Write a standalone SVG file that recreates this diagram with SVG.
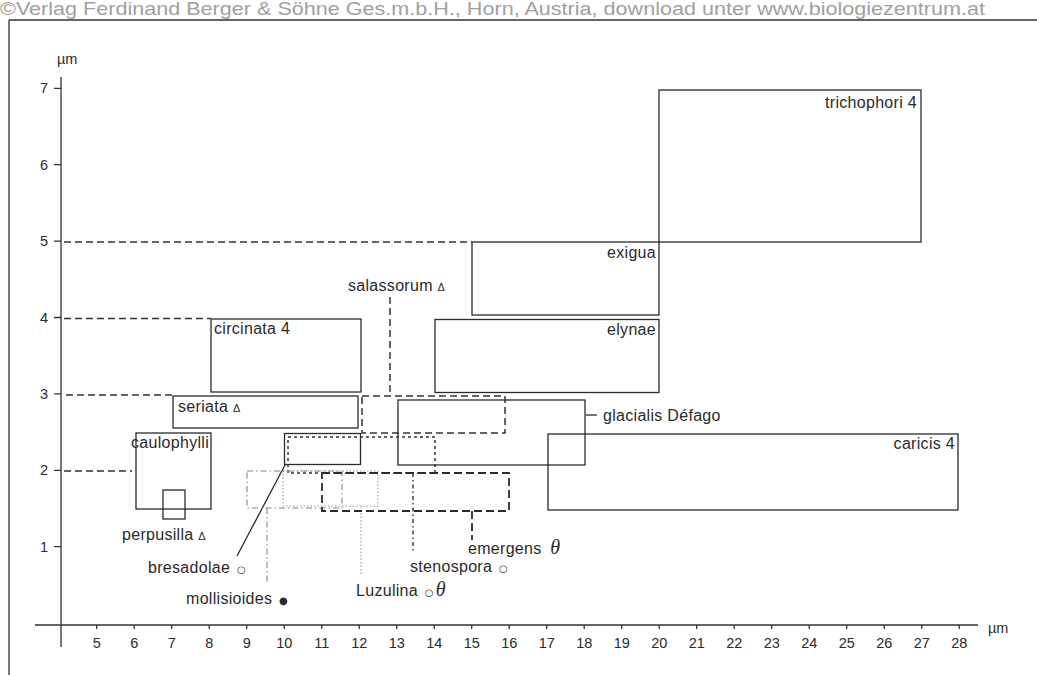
<svg xmlns="http://www.w3.org/2000/svg" width="1037" height="675" viewBox="0 0 1037 675">
<style>
.box{fill:none;stroke:#2b2b2b;stroke-width:1.3}
.ax{fill:none;stroke:#333;stroke-width:1.3}
.ref{fill:none;stroke:#333;stroke-width:1.3;stroke-dasharray:7 4}
.sal{fill:none;stroke:#333;stroke-width:1.5;stroke-dasharray:7 4}
.dot{fill:none;stroke:#333;stroke-width:1.5;stroke-dasharray:3 3}
.emg{fill:none;stroke:#2b2b2b;stroke-width:1.8;stroke-dasharray:8 4}
.dd{fill:none;stroke:#888;stroke-width:1.1;stroke-dasharray:6 3 1.5 3}
.lz{fill:none;stroke:#999;stroke-width:1.1;stroke-dasharray:1.5 2}
.sd{fill:none;stroke:#333;stroke-width:1.4;stroke-dasharray:4 3 1.5 3}
text{font-family:"Liberation Sans",Arial,sans-serif;fill:#2b2b2b}
.lbl{font-size:16px;letter-spacing:0.3px}
.num{font-size:14.5px}
.tick{font-size:14.5px;text-anchor:middle}
.sym{font-family:"DejaVu Sans",sans-serif;font-size:10px}
.th{font-family:"Liberation Serif",serif;font-style:italic;font-size:20px}
</style>
<rect width="1037" height="675" fill="#fff"/>
<text x="0" y="15" font-size="19" textLength="985" lengthAdjust="spacingAndGlyphs" style="fill:#a0a0a0">©Verlag Ferdinand Berger &amp; Söhne Ges.m.b.H., Horn, Austria, download unter www.biologiezentrum.at</text>
<g id="frame">
<path class="ax" d="M9 20 H1037 M9 20 V675"/>
</g>
<g id="axes">
<path class="ax" d="M61 77 V647 M35 625 H978"/>
<path class="ax" d="M54 88.3 H61 M54 164.7 H61 M54 241.1 H61 M54 317.5 H61 M54 393.9 H61 M54 470.3 H61 M54 546.7 H61"/>
<path class="ax" d="M96.7 625 v4 M134.2 625 v4 M171.7 625 v4 M209.2 625 v4 M246.7 625 v4 M284.2 625 v4 M321.7 625 v4 M359.2 625 v4 M396.7 625 v4 M434.2 625 v4 M471.7 625 v4 M509.2 625 v4 M546.7 625 v4 M584.2 625 v4 M621.7 625 v4 M659.2 625 v4 M696.7 625 v4 M734.2 625 v4 M771.7 625 v4 M809.2 625 v4 M846.7 625 v4 M884.2 625 v4 M921.7 625 v4 M959.2 625 v4"/>
<text class="num" x="57" y="64">µm</text>
<text class="num" x="988" y="633">µm</text>
<g class="num" text-anchor="end">
<text x="48" y="93.3">7</text>
<text x="48" y="169.7">6</text>
<text x="48" y="246.1">5</text>
<text x="48" y="322.5">4</text>
<text x="48" y="398.9">3</text>
<text x="48" y="475.3">2</text>
<text x="48" y="551.7">1</text>
</g>
<g class="tick">
<text x="96.7" y="648">5</text>
<text x="134.2" y="648">6</text>
<text x="171.7" y="648">7</text>
<text x="209.2" y="648">8</text>
<text x="246.7" y="648">9</text>
<text x="284.2" y="648">10</text>
<text x="321.7" y="648">11</text>
<text x="359.2" y="648">12</text>
<text x="396.7" y="648">13</text>
<text x="434.2" y="648">14</text>
<text x="471.7" y="648">15</text>
<text x="509.2" y="648">16</text>
<text x="546.7" y="648">17</text>
<text x="584.2" y="648">18</text>
<text x="621.7" y="648">19</text>
<text x="659.2" y="648">20</text>
<text x="696.7" y="648">21</text>
<text x="734.2" y="648">22</text>
<text x="771.7" y="648">23</text>
<text x="809.2" y="648">24</text>
<text x="846.7" y="648">25</text>
<text x="884.2" y="648">26</text>
<text x="921.7" y="648">27</text>
<text x="959.2" y="648">28</text>
</g>
</g>
<g id="connectors">
<path class="ref" d="M64 242 H472 M64 318.5 H211 M66 395 H173 M64 471 H132"/>
<path class="sal" d="M390 297 V396" stroke-dasharray="5 3"/>
<path class="box" d="M285 465 L237 556"/>
<path class="dd" d="M267 508 V582"/>
<path class="lz" d="M361 506 V575"/>
<path class="sd" d="M413 473 V553"/>
<path class="emg" d="M472 511 V540" stroke-dasharray="6 4"/>
<path class="box" d="M586 415 H597"/>
</g>
<g id="trichophori"><rect class="box" x="659" y="90" width="262" height="152"/><text class="lbl" x="917" y="108" text-anchor="end">trichophori 4</text></g>
<g id="exigua"><rect class="box" x="472" y="242" width="187" height="73"/><text class="lbl" x="656" y="258" text-anchor="end">exigua</text></g>
<g id="elynae"><rect class="box" x="435" y="319.5" width="224" height="73"/><text class="lbl" x="656" y="335" text-anchor="end">elynae</text></g>
<g id="circinata"><rect class="box" x="211" y="319" width="150" height="73"/><text class="lbl" x="214" y="334">circinata 4</text></g>
<g id="seriata"><rect class="box" x="173" y="396" width="185" height="32"/><text class="lbl" x="178" y="412">seriata <tspan font-size="11">Δ</tspan></text></g>
<g id="caulophylli"><rect class="box" x="136" y="433" width="75" height="76"/><text class="lbl" x="131" y="448">caulophylli</text></g>
<g id="perpusilla"><rect class="box" x="163" y="490" width="22" height="29"/><text class="lbl" x="122" y="540">perpusilla <tspan font-size="11">Δ</tspan></text></g>
<g id="salassorum"><rect class="sal" x="362" y="396" width="143" height="37"/><text class="lbl" x="348" y="291">salassorum <tspan font-size="11">Δ</tspan></text></g>
<g id="glacialis"><rect class="box" x="398" y="400" width="187" height="65"/><text class="lbl" x="603" y="421">glacialis Défago</text></g>
<g id="caricis"><rect class="box" x="548" y="434" width="410" height="76"/><text class="lbl" x="955" y="449" text-anchor="end">caricis 4</text></g>
<g id="bresadolae"><rect class="box" x="284.5" y="433.5" width="76" height="31"/><text class="lbl" x="148" y="573">bresadolae <tspan class="sym" dx="2">○</tspan></text></g>
<g id="stenospora"><rect class="dot" x="288" y="437" width="147" height="36"/><text class="lbl" x="410" y="572">stenospora <tspan class="sym" dx="2">○</tspan></text></g>
<g id="mollisioides"><rect class="dd" x="247" y="471" width="95" height="37"/><text class="lbl" x="186" y="604">mollisioides <tspan class="sym" dx="2">●</tspan></text></g>
<g id="Luzulina"><rect class="lz" x="283" y="471" width="95" height="35"/><text class="lbl" x="356" y="596">Luzulina <tspan class="sym" dx="2">○</tspan><tspan class="th" dx="2">θ</tspan></text></g>
<g id="emergens"><rect class="emg" x="322" y="473" width="187" height="38"/><text class="lbl" x="468" y="554">emergens <tspan class="th" dx="4">θ</tspan></text></g>
</svg>
